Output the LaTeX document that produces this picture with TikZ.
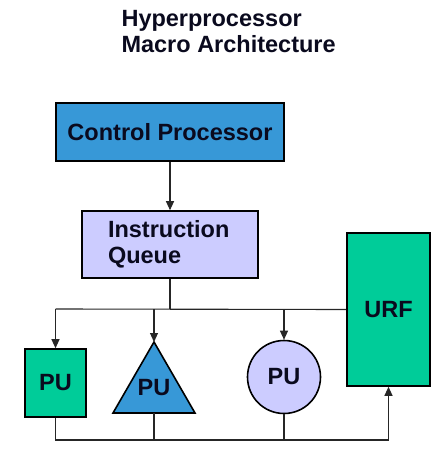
\documentclass[tikz,border=0pt]{standalone}
\usepackage{fontspec}
\setmainfont{Liberation Sans}
\usetikzlibrary{arrows.meta}
\definecolor{cpblue}{RGB}{55,152,215}
\definecolor{lav}{RGB}{204,204,255}
\definecolor{urfgreen}{RGB}{0,204,153}
\definecolor{txt}{RGB}{10,10,30}
\begin{document}
\begin{tikzpicture}[x=1pt,y=-1pt,
  every node/.style={font=\fontsize{23.5}{25.5}\selectfont\bfseries, text=txt},
  box/.style={draw=black, line width=1.6pt, inner sep=0pt},
  conn/.style={line width=1.1pt, draw=black!85},
  arr/.style={conn, -{Triangle[length=9pt,width=8pt]}}]
\useasboundingbox (0,0) rectangle (444,449);
% title
\node[anchor=base west, align=left, font=\fontsize{23.5}{26}\selectfont\bfseries] (title) at (118,53) {Hyperprocessor\\Macro Architecture};
% boxes
\node[box, fill=cpblue, minimum width=228pt, minimum height=58pt] (cp) at (170,132) {Control Processor};
\node[box, fill=lav, minimum width=176pt, minimum height=67pt, text width=124pt, inner xsep=26pt, align=left] (iq) at (170,244.5) {Instruction\\Queue};
\node[box, fill=urfgreen, minimum width=83pt, minimum height=153pt] (urf) at (388.5,309.5) {URF};
\node[box, fill=urfgreen, minimum width=61pt, minimum height=68pt] (pu1) at (55.5,383) {PU};
\coordinate (apex) at (154,342);
\coordinate (bl) at (113,413);
\coordinate (br) at (195,413);
\coordinate (tribase) at (154,413);
\draw[fill=cpblue, line width=1.6pt, line join=miter] (apex) -- (br) -- (bl) -- cycle;
\node (pu2) at (154,388) {PU};
\node[box, circle, fill=lav, minimum size=73pt] (pu3) at (284,377) {PU};
% coordinates
\coordinate (j0) at (170,309);
\coordinate (j1) at (55.5,309);
\coordinate (j2) at (154,309);
\coordinate (j3) at (284,309);
\coordinate (b1) at (55.5,440);
\coordinate (b2) at (154,440);
\coordinate (b3) at (284,440);
\coordinate (b4) at (388.5,440);
% connectors
\draw[arr] (cp.south) -- (iq.north);
\draw[conn] (iq.south) -- (j0);
\draw[conn] (j1) -- (urf.west);
\draw[arr] (j1) -- (pu1.north);
\draw[arr] (j2) -- (apex);
\draw[arr] (j3) -- (pu3.north);
\draw[arr] (pu1.south) -- (b1) -- (b4) -- (urf.south);
\draw[conn] (tribase) -- (b2);
\draw[conn] (pu3.south) -- (b3);
\end{tikzpicture}
\end{document}
